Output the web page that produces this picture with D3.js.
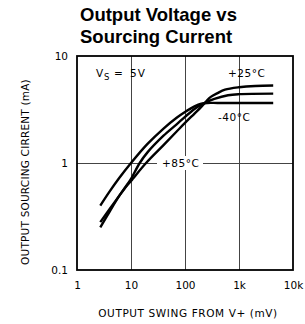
<!DOCTYPE html>
<html>
<head>
<meta charset="utf-8">
<script src="https://cdn.jsdelivr.net/npm/d3@7"></script>
<style>
body { margin:0; background:#fff; }
svg { display:block; }
.tick text { font-family:"DejaVu Sans", sans-serif; font-size:10.5px; fill:#000; }
.lbl { font-family:"DejaVu Sans", sans-serif; font-size:10.5px; fill:#000; white-space:pre; }
</style>
</head>
<body>
<div class="container"></div>
<script>
// data (mV, mA)
var xTicks = [1, 10, 100, 1000, 10000];
var xTickLabels = ["1", "10", "100", "1k", "10k"];
var yTicks = [0.1, 1, 10];
var yTickLabels = ["0.1", "1", "10"];

var swingA = [2.7, 4, 6, 10, 20, 40, 70, 100, 150, 200, 260, 400, 1000, 4300];
var currA  = [0.40, 0.54, 0.72, 1.0, 1.5, 2.1, 2.65, 3.0, 3.38, 3.58, 3.64, 3.64, 3.64, 3.64];

var swingP = [2.7, 4, 6, 8.5, 10, 14.5, 20, 40, 70, 100, 150, 200, 260, 350, 625, 1000, 4300];
var currP  = [0.25, 0.35, 0.49, 0.63, 0.71, 1.0, 1.25, 1.8, 2.3, 2.7, 3.2, 3.5, 3.75, 3.98, 4.3, 4.4, 4.45];

var swingQ = [2.7, 4, 6, 8.5, 10, 19, 40, 70, 100, 150, 200, 250, 300, 400, 550, 1000, 2000, 4300];
var currQ  = [0.28, 0.37, 0.49, 0.62, 0.68, 1.0, 1.47, 1.97, 2.37, 2.9, 3.35, 3.8, 4.15, 4.5, 4.84, 5.1, 5.25, 5.3];

var W = 305, H = 324;
var svg = d3.select(".container").append("svg").attr("width", W).attr("height", H);

var x = d3.scaleLog().domain([1, 10000]).range([77, 293]);
var y = d3.scaleLog().domain([0.1, 10]).range([270, 56]);

// title
svg.append("text").attr("x", 80).attr("y", 21)
	.style("font-family", "'Liberation Sans', Arial, sans-serif")
	.style("font-weight", "bold").style("font-size", "18.5px")
	.text("Output Voltage vs");
svg.append("text").attr("x", 80).attr("y", 43)
	.style("font-family", "'Liberation Sans', Arial, sans-serif")
	.style("font-weight", "bold").style("font-size", "18.5px")
	.text("Sourcing Current");

// grid
var gx = svg.append("g").attr("transform", "translate(0,270)")
	.call(d3.axisBottom(x).tickValues(xTicks.slice(1, -1)).tickSize(-214).tickFormat(""));
gx.selectAll("line").attr("stroke", "#444").attr("stroke-width", 1);
gx.select(".domain").remove();

var gy = svg.append("g").attr("transform", "translate(77,0)")
	.call(d3.axisLeft(y).tickValues(yTicks.slice(1, -1)).tickSize(-216).tickFormat(""));
gy.selectAll("line").attr("stroke", "#444").attr("stroke-width", 1);
gy.select(".domain").remove();

// tick labels
var ax = svg.append("g").attr("transform", "translate(0,270)")
	.call(d3.axisBottom(x).tickValues(xTicks).tickSize(0).tickPadding(12)
		.tickFormat(function(d, i) { return xTickLabels[i]; }));
ax.select(".domain").remove();

var ay = svg.append("g").attr("transform", "translate(77,0)")
	.call(d3.axisLeft(y).tickValues(yTicks).tickSize(0).tickPadding(9)
		.tickFormat(function(d, i) { return yTickLabels[i]; }));
ay.select(".domain").remove();

// +85 label with white box over the grid line
svg.append("rect").attr("x", 157).attr("y", y(1) - 7).attr("width", 46).attr("height", 14).attr("fill", "#fff");
svg.append("text").attr("class", "lbl").attr("x", 162).attr("y", y(1) + 4)
	.style("letter-spacing", "0.5px").text("+85°C");

// curves
var line = d3.line().x(function(d) { return x(d[0]); }).y(function(d) { return y(d[1]); })
	.curve(d3.curveCatmullRom.alpha(0.5));
[[swingA, currA], [swingP, currP], [swingQ, currQ]].forEach(function(s) {
	var pts = d3.zip(s[0], s[1]);
	svg.append("path").attr("d", line(pts))
		.attr("fill", "none").attr("stroke", "#000").attr("stroke-width", 2.4);
});

// frame
svg.append("rect").attr("x", 77).attr("y", 56).attr("width", 216).attr("height", 214)
	.attr("fill", "none").attr("stroke", "#000").attr("stroke-width", 1.8);

// labels
svg.append("text").attr("class", "lbl").attr("x", 96).attr("y", 77).text("V");
svg.append("text").attr("class", "lbl").attr("x", 104).attr("y", 80).style("font-size", "8.5px").text("S");
svg.append("text").attr("class", "lbl").attr("x", 114).attr("y", 77).text("=");
svg.append("text").attr("class", "lbl").attr("x", 130).attr("y", 77).style("letter-spacing", "1px").text("5V");

svg.append("text").attr("class", "lbl").attr("x", 228).attr("y", 77).style("letter-spacing", "0.5px").text("+25°C");
svg.append("text").attr("class", "lbl").attr("x", 218).attr("y", 121).style("letter-spacing", "0.5px").text("-40°C");

// axis titles
svg.append("text").attr("class", "lbl").attr("x", 188).attr("y", 317)
	.attr("text-anchor", "middle").style("letter-spacing", "0.6px")
	.text("OUTPUT SWING FROM V+ (mV)");
svg.append("text").attr("class", "lbl")
	.attr("transform", "translate(29,172) rotate(-90)")
	.attr("text-anchor", "middle").style("letter-spacing", "0.2px")
	.text("OUTPUT SOURCING CIRRENT (mA)");
</script>
</body>
</html>
